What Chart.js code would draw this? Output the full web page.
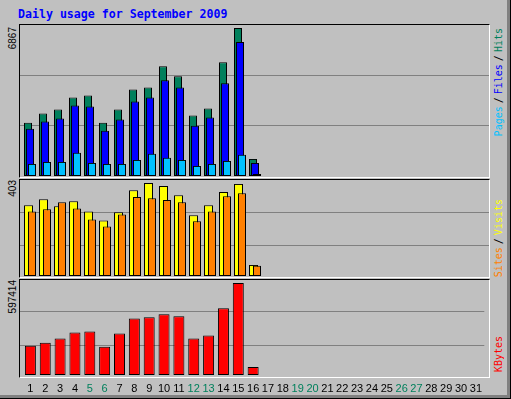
<!DOCTYPE html>
<html>
<head>
<meta charset="utf-8">
<title>Daily usage for September 2009</title>
<script src="https://cdn.jsdelivr.net/npm/chart.js@4.4.0/dist/chart.umd.min.js"></script>
<style>
  html, body { margin: 0; padding: 0; background: #c0c0c0; }
  #graph {
    position: relative; width: 511px; height: 399px; overflow: hidden;
    background: #c0c0c0;
    box-shadow: inset -1px -1px 0 #000, inset -4px -4px 0 #808080;
  }
  .title {
    position: absolute; left: 18px; top: 8px; white-space: nowrap;
    font: bold 11.6px "DejaVu Sans Mono", monospace; line-height: 12px; color: #0000ff;
  }
  .panel {
    position: absolute; left: 19px; width: 471px; box-sizing: border-box;
    border-top: 1px solid #000; border-left: 1px solid #000;
    border-right: 1px solid #fff; border-bottom: 1px solid #fff;
  }
  canvas { position: absolute; left: 20px; }
  .maxlabel {
    position: absolute; left: 8px; width: 60px; text-align: right; white-space: nowrap;
    font: 10px "Liberation Sans", Arial, sans-serif; line-height: 10px; color: #000;
    transform-origin: left top; transform: rotate(-90deg);
  }
  .legend {
    position: absolute; left: 494px; width: 150px; text-align: right; white-space: nowrap;
    font: 10px "DejaVu Sans Mono", monospace; line-height: 10px; color: #000;
    transform-origin: left top; transform: rotate(-90deg);
  }
  .legend span + span { margin-left: 3px; }
</style>
</head>
<body>
<div id="graph">
  <div class="title">Daily usage for September 2009</div>

  <div class="panel" style="top:24px;height:154px"></div>
  <div class="panel" style="top:179px;height:99px"></div>
  <div class="panel" style="top:279px;height:99px"></div>

  <canvas id="hitsChart" width="469" height="151" style="top:25px"></canvas>
  <canvas id="visitsChart" width="469" height="96" style="top:180px"></canvas>
  <canvas id="kbytesChart" width="469" height="119" style="top:280px"></canvas>

  <div class="maxlabel" id="maxHits" style="top:87px"></div>
  <div class="maxlabel" id="maxVisits" style="top:240px"></div>
  <div class="maxlabel" id="maxKbytes" style="top:340px"></div>

  <div class="legend" style="top:178px"><span style="color:#00c0ff">Pages</span><span>/</span><span style="color:#0000ff">Files</span><span>/</span><span style="color:#00805c">Hits</span></div>
  <div class="legend" style="top:349px"><span style="color:#ff8000">Sites</span><span>/</span><span style="color:#ffff00">Visits</span></div>
  <div class="legend" style="top:486px"><span style="color:#ff0000">KBytes</span></div>
</div>

<script>
// tick labels along the bottom
const days = [1, 2, 3, 4, 5, 6, 7, 8, 9, 10, 11, 12, 13, 14, 15, 16,
  17, 18, 19, 20, 21, 22, 23, 24, 25, 26, 27, 28, 29, 30, 31];
const weekendDays = [5, 6, 12, 13, 19, 20, 26, 27];

// values, days 1..16
const hits = [2476, 2896, 3083, 3644, 3737, 2476, 3083, 4017, 4111, 5092, 4625, 2803, 3130, 5279, 6867, 794];
const files = [2196, 2523, 2663, 3270, 3223, 2102, 2616, 3457, 3644, 4438, 4111, 2336, 2709, 4298, 6213, 607];
const pages = [561, 654, 654, 1074, 607, 561, 561, 747, 1028, 841, 747, 467, 561, 701, 981, 93];
const visits = [307, 333, 302, 324, 280, 241, 276, 372, 403, 390, 350, 263, 307, 364, 399, 48];
const sites = [280, 289, 320, 293, 245, 215, 267, 342, 337, 329, 320, 237, 280, 346, 359, 44];
const kbytes = [190389, 210082, 236342, 275733, 282298, 183824, 269168, 367643, 374208,
  393903, 380773, 236342, 256037, 433294, 597414, 52520];

const maxHits = 6867;
const maxVisits = 403;
const maxKbytes = 597414;

// x geometry: 15px per day, day 1 sits 10px into the 469px plot
const DAY_PX = 15;
const AREA_W = 469;
const X_MIN = 1 - 10 / DAY_PX;
const X_MAX = X_MIN + AREA_W / DAY_PX;

function makeChart(canvasId, series, yMax, gridFractions, showDays) {
  const scales = {
    y: {
      min: 0,
      max: yMax,
      ticks: { display: false },
      border: { display: false },
      grid: { color: "#808080", lineWidth: 1, drawTicks: false },
      afterBuildTicks: (scale) => {
        scale.ticks = gridFractions.map((f) => ({ value: f * yMax }));
      },
      afterFit: (scale) => {
        scale.width = 0;
      },
    },
  };

  const datasets = series.map((s, i) => {
    const axisId = "x" + i;
    const offset = s.shift / DAY_PX;
    scales[axisId] = {
      type: "linear",
      display: showDays && i === 0,
      min: X_MIN - offset,
      max: X_MAX - offset,
      offset: false,
      grid: { display: false, drawTicks: false, offset: false },
      border: { display: false },
      ticks: {
        autoSkip: false,
        maxRotation: 0,
        minRotation: 0,
        padding: 7,
        font: { family: "Liberation Sans", size: 11 },
        color: (ctx) => (weekendDays.includes(ctx.tick.value) ? "#00805c" : "#000000"),
        callback: (v) => String(v),
      },
      afterBuildTicks: (scale) => {
        scale.ticks = days.map((d) => ({ value: d }));
      },
      afterFit: (scale) => {
        if (showDays && i === 0) scale.height = 24;
      },
    };
    return {
      data: s.data,
      xAxisID: axisId,
      yAxisID: "y",
      backgroundColor: s.color,
      borderColor: "#000000",
      borderWidth: 1,
      borderSkipped: false,
      inflateAmount: 0,
      barThickness: s.width,
      grouped: false,
      order: s.order,
    };
  });

  return new Chart(document.getElementById(canvasId), {
    type: "bar",
    data: { labels: days, datasets: datasets },
    options: {
      responsive: false,
      animation: false,
      devicePixelRatio: 1,
      layout: { padding: { top: 3, bottom: 0, left: 0, right: 0 } },
      plugins: { legend: { display: false }, tooltip: { enabled: false } },
      scales: scales,
    },
  });
}

document.getElementById("maxHits").textContent = String(maxHits);
document.getElementById("maxVisits").textContent = String(maxVisits);
document.getElementById("maxKbytes").textContent = String(maxKbytes);

makeChart("hitsChart", [
  { data: hits, color: "#00805c", shift: -2, width: 8, order: 2 },
  { data: files, color: "#0000ff", shift: 0, width: 8, order: 1 },
  { data: pages, color: "#00c0ff", shift: 2, width: 8, order: 0 },
], maxHits, [0.338, 0.682], false);

makeChart("visitsChart", [
  { data: visits, color: "#ffff00", shift: -1.5, width: 9, order: 1 },
  { data: sites, color: "#ff8000", shift: 2, width: 8, order: 0 },
], maxVisits, [0.333, 0.688], false);

makeChart("kbytesChart", [
  { data: kbytes, color: "#ff0000", shift: 0.5, width: 11, order: 0 },
], maxKbytes, [0.326, 0.685], true);
</script>
</body>
</html>
